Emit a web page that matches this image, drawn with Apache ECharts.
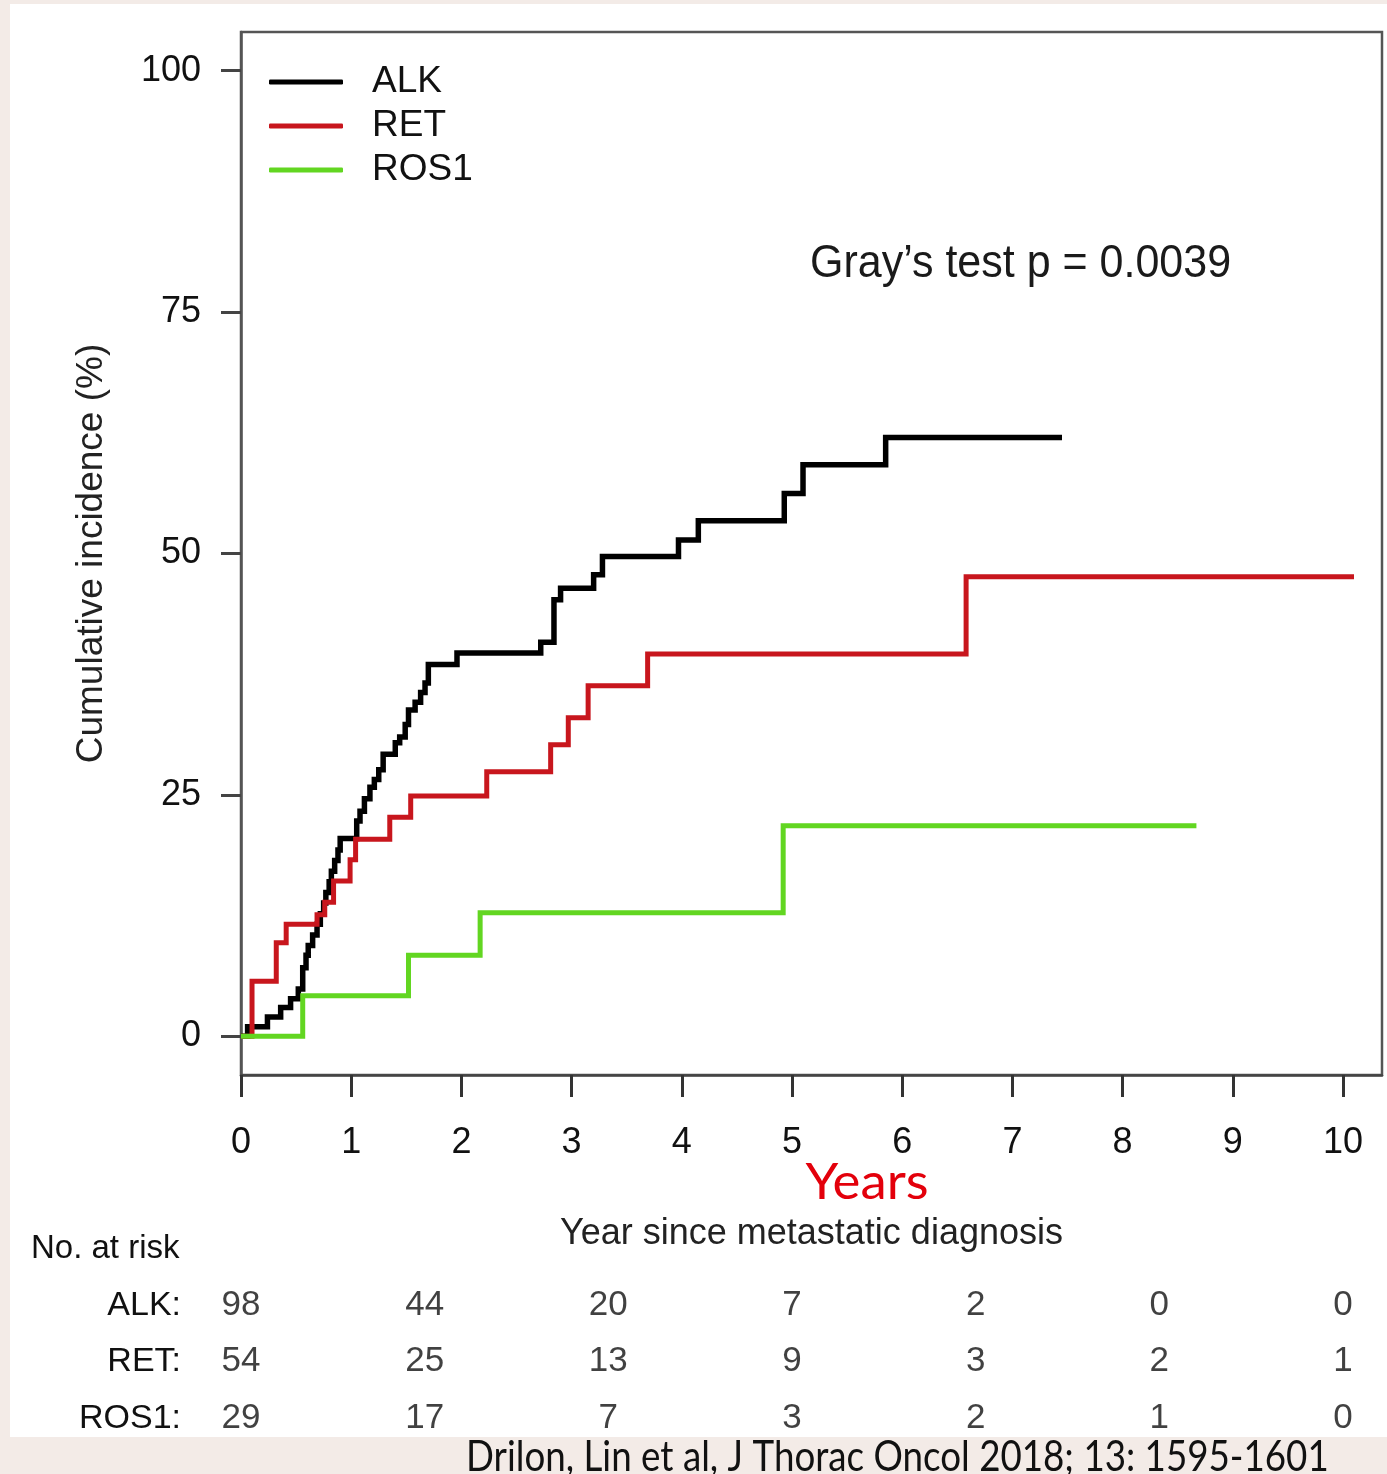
<!DOCTYPE html>
<html><head><meta charset="utf-8">
<script src="https://cdn.jsdelivr.net/npm/echarts@6/dist/echarts.min.js"></script>
<style>
html,body{margin:0;padding:0;background:#f3ebe7;overflow:hidden;}
#paper{position:absolute;left:10px;top:4px;width:1377px;height:1433px;background:#ffffff;}
#c{position:absolute;left:0;top:0;width:1387px;height:1474px;}
</style>
</head><body><div id="paper"></div><div id="c"></div>
<script>
// ---------------- data ----------------
const seriesNames = ['ALK', 'RET', 'ROS1'];
const alkData = [[0,0],[0.06,1.0],[0.24,2.0],[0.36,3.0],[0.45,3.9],[0.52,4.9],[0.56,7.1],[0.59,8.4],[0.61,9.4],[0.65,10.5],[0.69,11.6],[0.72,12.7],[0.75,13.8],[0.77,14.9],[0.80,16.0],[0.82,17.1],[0.85,18.2],[0.88,19.3],[0.90,20.5],[1.05,22.3],[1.08,23.3],[1.12,24.6],[1.17,25.8],[1.21,26.6],[1.25,27.6],[1.29,29.2],[1.40,30.4],[1.44,31.0],[1.49,32.3],[1.52,33.8],[1.58,34.6],[1.63,35.6],[1.67,36.6],[1.70,38.5],[1.96,39.7],[2.72,40.8],[2.84,45.2],[2.90,46.4],[3.20,47.8],[3.28,49.7],[3.97,51.4],[4.15,53.4],[4.93,56.2],[5.10,59.2],[5.85,62.0],[7.45,62.0]];
const retData = [[0,0],[0.10,5.7],[0.32,9.7],[0.41,11.6],[0.69,12.6],[0.76,13.9],[0.84,16.1],[0.99,18.3],[1.04,20.4],[1.35,22.7],[1.54,24.9],[2.23,27.4],[2.81,30.2],[2.97,33.0],[3.15,36.3],[3.69,39.6],[6.58,47.6],[10.10,47.6]];
const ros1Data = [[0,0],[0.56,4.2],[1.52,8.4],[2.17,12.8],[4.92,21.8],[8.67,21.8]];
const xTicks = [0,1,2,3,4,5,6,7,8,9,10];
const yTicks = [0,25,50,75,100];
const riskTimes = [0, 1.667, 3.333, 5, 6.667, 8.333, 10];
const riskALK = [98, 44, 20, 7, 2, 0, 0];
const riskRET = [54, 25, 13, 9, 3, 2, 1];
const riskROS1 = [29, 17, 7, 3, 2, 1, 0];
const yAxisTitle = 'Cumulative incidence (%)';
const xAxisTitle = 'Year since metastatic diagnosis';
const yearsText = 'Years';
const pValueText = 'Gray\u2019s test p = 0.0039';
const riskTitle = 'No. at risk';
const citationText = 'Drilon, Lin et al, J Thorac Oncol 2018; 13: 1595-1601';

// ---------------- styling helpers ----------------
const SANS = '"Liberation Sans", Arial, Helvetica, sans-serif';
const HUMAN = 'Lato, "Open Sans", sans-serif';
const colors = ['#000000', '#c8161d', '#62d621'];
const mctx = document.createElement('canvas').getContext('2d');
function inkWidth(text, font) {
  mctx.font = font;
  const m = mctx.measureText(text);
  return (m.actualBoundingBoxRight || m.width) + (m.actualBoundingBoxLeft || 0);
}
// condensed look of the original lettering: use a narrow face if present
mctx.font = '40px "Liberation Sans Narrow", monospace';
const wNarrow = mctx.measureText('ALK RET ROS1 abc').width;
mctx.font = '40px monospace';
const wMono = mctx.measureText('ALK RET ROS1 abc').width;
const hasNarrow = Math.abs(wNarrow - wMono) > 1;
const COND = hasNarrow ? '"Liberation Sans Narrow", "Liberation Sans", Arial, sans-serif' : SANS;
const k = hasNarrow ? 1.2 : 1.0;

const yearsSize = 51;
const yearsScale = 122 / inkWidth(yearsText, yearsSize + 'px ' + HUMAN);
const citeSize = 42;
const citeScale = 858 / inkWidth(citationText, citeSize + 'px ' + HUMAN);

const riskRows = [riskALK, riskRET, riskROS1];
const riskPoints = [];
riskRows.forEach((row, r) => row.forEach((v, i) => riskPoints.push([riskTimes[i], seriesNames[r], v])));

const chart = echarts.init(document.getElementById('c'), null, {renderer: 'canvas'});
chart.setOption({
  animation: false,
  backgroundColor: 'transparent',
  textStyle: {fontFamily: SANS},
  grid: [
    {left: 241, right: 5, top: 32, height: 1043, show: true, borderColor: '#555', borderWidth: 2.5, containLabel: false},
    {left: 241, right: 5, top: 1277, height: 169.5, show: false, containLabel: false}
  ],
  legend: {
    data: seriesNames, orient: 'vertical', left: 264, top: 57,
    icon: 'roundRect', itemWidth: 74, itemHeight: 5, itemGap: 4,
    textStyle: {fontSize: Math.round(37 * k), color: '#111', fontFamily: COND, lineHeight: 40, padding: [0, 0, 0, 24]}
  },
  xAxis: [
    {
      type: 'value', gridIndex: 0, min: 0, max: 10.354,
      name: xAxisTitle, nameLocation: 'middle', nameGap: hasNarrow ? 137 : 141,
      nameTextStyle: {fontSize: Math.round(36 * k), color: '#222', fontFamily: COND},
      axisLine: {show: true, onZero: false, lineStyle: {color: '#444', width: 2.5}},
      axisTick: {show: true, customValues: xTicks, length: 22, lineStyle: {color: '#333', width: 3}},
      axisLabel: {show: true, customValues: xTicks, fontSize: 36, color: '#111', margin: 50, fontFamily: SANS},
      splitLine: {show: false}
    },
    {type: 'value', gridIndex: 1, min: 0, max: 10.354, show: false}
  ],
  yAxis: [
    {
      type: 'value', gridIndex: 0, min: -4, max: 104,
      name: yAxisTitle, nameLocation: 'middle', nameGap: 131, nameRotate: 90,
      nameTextStyle: {fontSize: 37, color: '#222', fontFamily: SANS},
      axisLine: {show: true, onZero: false, lineStyle: {color: '#555', width: 2.5}},
      axisTick: {show: true, customValues: yTicks, length: 20, lineStyle: {color: '#444', width: 3}},
      axisLabel: {show: true, customValues: yTicks, fontSize: 36, color: '#111', margin: 40, fontFamily: SANS},
      splitLine: {show: false}
    },
    {
      type: 'category', gridIndex: 1, data: seriesNames, inverse: true,
      axisLine: {show: false}, axisTick: {show: false}, splitLine: {show: false},
      axisLabel: {show: true, formatter: '{value}:', fontSize: Math.round(34 * k), color: '#111', margin: 60, fontFamily: COND}
    }
  ],
  series: [
    {name: 'ALK', type: 'line', step: 'end', data: alkData, symbol: 'none', color: colors[0],
     lineStyle: {width: 5.5, color: colors[0], join: 'miter'}, xAxisIndex: 0, yAxisIndex: 0, silent: true},
    {name: 'RET', type: 'line', step: 'end', data: retData, symbol: 'none', color: colors[1],
     lineStyle: {width: 5, color: colors[1], join: 'miter'}, xAxisIndex: 0, yAxisIndex: 0, silent: true},
    {name: 'ROS1', type: 'line', step: 'end', data: ros1Data, symbol: 'none', color: colors[2],
     lineStyle: {width: 5, color: colors[2], join: 'miter'}, xAxisIndex: 0, yAxisIndex: 0, silent: true},
    {name: 'atrisk', type: 'scatter', xAxisIndex: 1, yAxisIndex: 1, data: riskPoints, symbol: 'circle', symbolSize: 1,
     itemStyle: {color: 'rgba(0,0,0,0)'}, silent: true,
     label: {show: true, position: 'inside', formatter: p => String(p.value[2]), fontSize: Math.round(35 * k), color: '#111', fontFamily: COND}}
  ],
  graphic: [
    {type: 'text', x: 810, y: 264, silent: true, scaleY: 1.08,
     style: {text: pValueText, font: '43px ' + SANS, fill: '#1a1a1a', verticalAlign: 'middle', align: 'left'}},
    {type: 'text', x: 867, y: 1183, silent: true, scaleX: yearsScale, originX: 0,
     style: {text: yearsText, font: yearsSize + 'px ' + HUMAN, fill: '#e3000b', verticalAlign: 'middle', align: 'center'}},
    {type: 'text', x: 31, y: 1249, silent: true,
     style: {text: riskTitle, font: Math.round(33 * k) + 'px ' + COND, fill: '#111', verticalAlign: 'middle', align: 'left'}},
    {type: 'text', x: 466, y: 1457, silent: true, scaleX: citeScale,
     style: {text: citationText, font: citeSize + 'px ' + HUMAN, fill: '#111', verticalAlign: 'middle', align: 'left'}}
  ]
});
</script>
</body></html>
